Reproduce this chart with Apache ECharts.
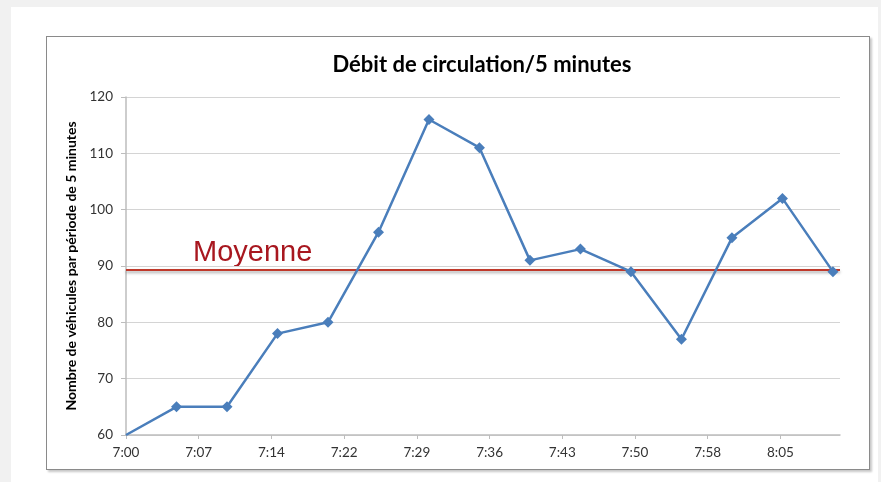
<!DOCTYPE html>
<html>
<head>
<meta charset="utf-8">
<script src="https://cdn.jsdelivr.net/npm/echarts@6/dist/echarts.min.js"></script>
<style>
  html, body { margin: 0; padding: 0; background: #f1f1f1; }
  #sheet { position: absolute; left: 11px; top: 7px; width: 867px; height: 475px; background: #fff; }
  #frame { position: absolute; left: 46px; top: 36px; width: 822px; height: 432px;
           border: 1.5px solid #8a8a8a; box-shadow: 2px 2px 2px #c8c8c8; background: #fff; }
  #main { position: absolute; left: 0; top: 0; width: 881px; height: 482px; }
</style>
</head>
<body>
<div id="sheet"></div>
<div id="frame"></div>
<div id="main"></div>
<script>
// heures des relevés (toutes les 5 minutes)
const times = ['7:00', '7:05', '7:10', '7:15', '7:20', '7:25', '7:30', '7:35',
               '7:40', '7:45', '7:50', '7:55', '8:00', '8:05', '8:10']
// nombre de véhicules par période
const counts = [60, 65, 65, 78, 80, 96, 116, 111, 91, 93, 89, 77, 95, 102, 89]
const yTicks = [60, 70, 80, 90, 100, 110, 120]
const moyenne = 89.3

const toMin = t => { const p = t.split(':'); return (+p[0] - 7) * 60 + (+p[1]) }
const fmtTime = v => {
  const m = Math.round(v)
  const h = 7 + Math.floor(m / 60)
  const mm = m % 60
  return h + ':' + (mm < 10 ? '0' + mm : mm)
}

const chart = echarts.init(document.getElementById('main'))
const font = 'Lato, "Open Sans", sans-serif'

const seriesData = times.map((t, i) => {
  const item = { value: [toMin(t), counts[i]] }
  if (i === 0) item.symbol = 'none' // pas de marqueur au coin de l'axe
  return item
})

const option = {
  animation: false,
  title: {
    text: 'Débit de circulation/5 minutes',
    left: 477, top: 49, textAlign: 'center',
    textStyle: { fontFamily: font, fontWeight: 'bold', fontSize: 22, color: '#000' }
  },
  grid: { left: 126, top: 97, right: 41, bottom: 47 },
  xAxis: {
    type: 'value', min: 0, max: 70.7, interval: 7.2,
    axisLine: { lineStyle: { color: '#bdbdbd', width: 1.5 } },
    axisTick: { show: true, length: 4, lineStyle: { color: '#bdbdbd' } },
    axisLabel: { formatter: fmtTime, showMaxLabel: false, fontFamily: font, fontSize: 13.5, color: '#333', margin: 11 },
    splitLine: { show: false }
  },
  yAxis: {
    type: 'value', min: yTicks[0], max: yTicks[yTicks.length - 1], interval: 10,
    name: 'Nombre de véhicules par période de 5 minutes',
    nameLocation: 'middle', nameGap: 43,
    nameTextStyle: { fontFamily: font, fontWeight: 'bold', fontSize: 14, color: '#000' },
    axisLine: { show: true, lineStyle: { color: '#bdbdbd', width: 1.5 } },
    axisTick: { show: true, length: 5, lineStyle: { color: '#bdbdbd' } },
    axisLabel: { fontFamily: font, fontSize: 13.5, color: '#333', margin: 13 },
    splitLine: { lineStyle: { color: '#d4d4d4', width: 1.2 } }
  },
  series: [{
    type: 'line',
    data: seriesData,
    symbol: 'diamond', symbolSize: 11,
    lineStyle: { color: '#4a7ebb', width: 2.5 },
    itemStyle: { color: '#4a7ebb' },
    z: 3,
    markLine: {
      silent: true, symbol: 'none', label: { show: false }, z: 2,
      lineStyle: { color: '#c0392b', width: 2, type: 'solid',
                   shadowColor: 'rgba(0,0,0,0.35)', shadowBlur: 3, shadowOffsetY: 2 },
      data: [{ yAxis: moyenne }]
    }
  }],
  graphic: [{
    type: 'text', left: 193, top: 238,
    style: { text: 'Moyenne', font: '29px "Liberation Sans", Arial, sans-serif', fill: '#a8171f' }
  }]
}
chart.setOption(option)
</script>
</body>
</html>
